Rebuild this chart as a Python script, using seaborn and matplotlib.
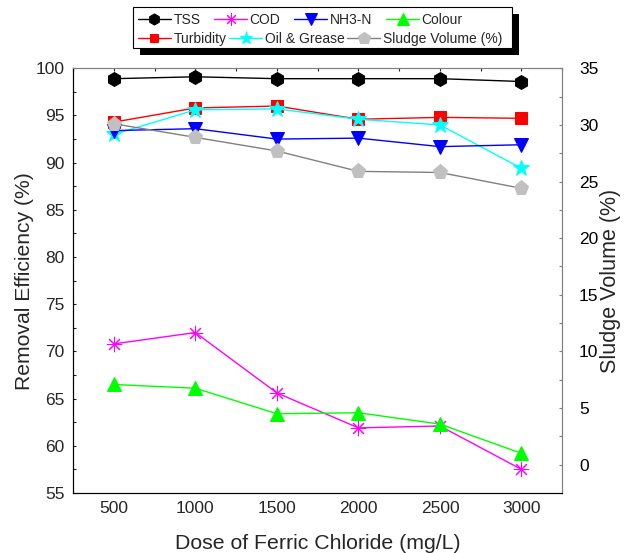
import numpy as np
import pandas as pd
import matplotlib
matplotlib.use('Agg')
import matplotlib.pyplot as plt
import seaborn as sns
from matplotlib.ticker import MultipleLocator
from matplotlib.patches import Rectangle

sns.set_style('white')
plt.rcParams['font.family'] = ['Liberation Sans', 'DejaVu Sans']

# data
dose = [500, 1000, 1500, 2000, 2500, 3000]
tss = [98.9, 99.1, 98.9, 98.9, 98.9, 98.6]
cod = [70.8, 72.0, 65.6, 61.9, 62.1, 57.5]
nh3n = [93.4, 93.6, 92.5, 92.6, 91.7, 91.9]
colour = [66.5, 66.1, 63.4, 63.5, 62.3, 59.2]
turbidity = [94.3, 95.8, 96.0, 94.6, 94.8, 94.7]
oil_grease = [93.0, 95.6, 95.7, 94.6, 94.0, 89.4]
sludge = [30.1, 28.9, 27.7, 25.9, 25.8, 24.4]

fig = plt.figure(figsize=(6.36, 5.53), dpi=100)
ax = fig.add_axes([0.115, 0.1085, 0.769, 0.768])
ax2 = ax.twinx()

# left axis series
series = [
    ('TSS', tss, 'black', 'h', 10),
    ('Turbidity', turbidity, 'red', 's', 8),
    ('COD', cod, 'magenta', (8, 2, 0), 11),
    ('Oil & Grease', oil_grease, 'cyan', '*', 12),
    ('NH3-N', nh3n, 'blue', 'v', 10),
    ('Colour', colour, '#00ff00', '^', 10),
]
handles = {}
for name, vals, c, mk, ms in series:
    sns.lineplot(x=dose, y=vals, ax=ax, color=c, marker=mk, markersize=ms,
                 markerfacecolor=c, markeredgecolor=c, linewidth=1)
    handles[name] = ax.lines[-1]

# sludge volume on the right axis
sns.lineplot(x=dose, y=sludge, ax=ax2, color='#808080', marker='p', markersize=11,
             markerfacecolor='#c0c0c0', markeredgecolor='#c0c0c0', linewidth=1)
handles['Sludge Volume (%)'] = ax2.lines[-1]

ax.set_xlim(250, 3250)
ax.set_ylim(55, 100)
ax2.set_ylim(-2.5, 35)
ax.set_xticks(dose)
ax.xaxis.set_minor_locator(MultipleLocator(250))
ax.yaxis.set_major_locator(MultipleLocator(5))
ax.yaxis.set_minor_locator(MultipleLocator(2.5))
ax2.set_yticks([0, 5, 10, 15, 20, 25, 30, 35])
ax2.yaxis.set_minor_locator(MultipleLocator(2.5))

for a in (ax, ax2):
    a.tick_params(which='both', direction='in', length=2.5, width=0.8,
                  labelsize=12.5, top=True, pad=6)
    a.spines['top'].set_color('#808080')
    a.spines['right'].set_color('#808080')
    a.spines['left'].set_color('black')
    a.spines['bottom'].set_color('black')
ax.tick_params(axis='y', which='both', right=False)
ax2.tick_params(axis='y', which='both', left=False, colors='#808080',
                labelcolor='black', pad=12)

ax.set_xlabel('Dose of Ferric Chloride (mg/L)', fontsize=15.3, labelpad=13)
ax.set_ylabel('Removal Efficiency (%)', fontsize=15.2, labelpad=1)
ax2.set_ylabel('Sludge Volume (%)', fontsize=15.5, labelpad=1.5)

# legend box with a hard black shadow
W, H = 636, 553
x0, y0, x1, y1 = 133, 7, 512, 48
off = 7
fig.patches.append(Rectangle(((x0 + off) / W, 1 - (y1 + off) / H), (x1 - x0) / W,
                             (y1 - y0) / H, transform=fig.transFigure,
                             facecolor='black', edgecolor='none', zorder=1))
fig.patches.append(Rectangle((x0 / W, 1 - y1 / H), (x1 - x0) / W, (y1 - y0) / H,
                             transform=fig.transFigure, facecolor='white',
                             edgecolor='black', linewidth=0.8, zorder=2))

row1 = ['TSS', 'COD', 'NH3-N', 'Colour']
row2 = ['Turbidity', 'Oil & Grease', 'Sludge Volume (%)']
common = dict(loc='center left', fontsize=10, frameon=False, handlelength=2.37,
              handletextpad=0.18, borderpad=0, borderaxespad=0, markerscale=0.8)
leg1 = fig.legend([handles[k] for k in row1], row1, ncol=4,
                  bbox_to_anchor=(138 / W, 1 - 20 / H), columnspacing=1.0, **common)
leg2 = fig.legend([handles[k] for k in row2], row2, ncol=3,
                  bbox_to_anchor=(138 / W, 1 - 39 / H), columnspacing=0.2, **common)
leg1.set_zorder(3)
leg2.set_zorder(3)

plt.savefig('out.png', dpi=100)
